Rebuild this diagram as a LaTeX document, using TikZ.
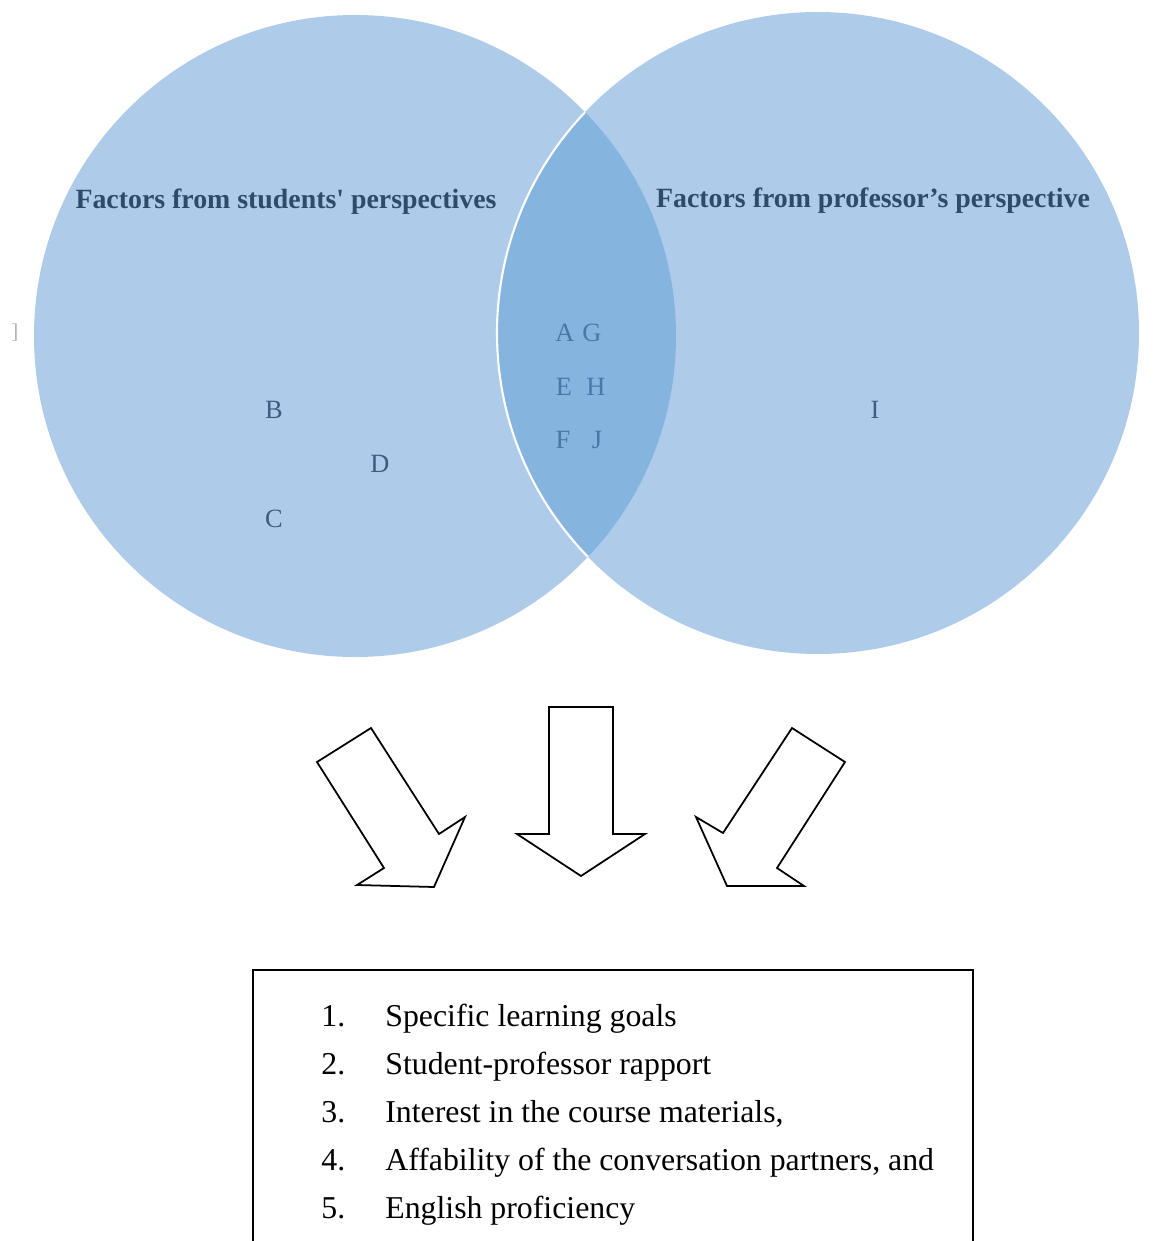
\documentclass[tikz,border=0pt]{standalone}
\usepackage{fontspec}
\setmainfont{Liberation Serif}
\definecolor{venn}{HTML}{AECBEA}
\definecolor{lens}{HTML}{85B4DF}
\definecolor{titleblue}{HTML}{2F4B6C}
\definecolor{letterblue}{HTML}{3E5C82}
\definecolor{lensblue}{HTML}{4A77A8}

\begin{document}
\begin{tikzpicture}[x=0.02cm, y=-0.02cm,
    side/.style={fill=venn, draw=none},
    heading/.style={font=\bfseries\fontsize{15.85}{18}\selectfont, text=titleblue},
    factor/.style={font=\fontsize{15}{18}\selectfont, text=letterblue},
    shared/.style={font=\fontsize{15}{18}\selectfont, text=lensblue},
    bigarrow/.style={draw=black, line width=1pt, fill=white, line join=miter},
    item/.style={font=\fontsize{18.1}{21}\selectfont, anchor=base west, inner sep=0pt},
]
    \useasboundingbox (0,0) rectangle (1154,1241);
    \clip (0,0) rectangle (1154,1241);

    % the two circles
    \fill [side] (355,336) circle [radius=321];
    \fill [side] (818,333) circle [radius=321];
    \begin{scope}
        \clip (355,336) circle [radius=321];
        \fill [lens] (818,333) circle [radius=321];
    \end{scope}
    \begin{scope}
        \clip (355,336) circle [radius=321];
        \draw [white, line width=1.2pt] (818,333) circle [radius=321];
    \end{scope}

    \node [heading] (students) at (286,202) {Factors from students\textquotesingle{} perspectives};
    \node [heading] (professor) at (873,201) {Factors from professor’s perspective};

    \node [factor] (B) at (274,410) {B};
    \node [factor] (D) at (380,464) {D};
    \node [factor] (C) at (274,519) {C};
    \node [factor] (I) at (875,410) {I};

    \node [shared] (A) at (565,333) {A};
    \node [shared] (G) at (592,333) {G};
    \node [shared] (E) at (564,387) {E};
    \node [shared] (H) at (596,387) {H};
    \node [shared] (F) at (563,440) {F};
    \node [shared] (J) at (597,440) {J};

    \node [text=black!30, font=\fontsize{12}{14}\selectfont] (mark) at (15,333) {]};

    % block arrows
    \draw [bigarrow] (317,762) -- (371,728) -- (439,834) -- (465,817)
        -- (434,887) -- (357,885) -- (384,868) -- cycle;
    \draw [bigarrow] (549,707) -- (613,707) -- (613,834) -- (645,834)
        -- (581,876) -- (517,834) -- (549,834) -- cycle;
    \draw [bigarrow] (845,762) -- (792,728) -- (723,833) -- (696,817)
        -- (727,886) -- (804,886) -- (777,868) -- cycle;

    % result box
    \draw [line width=1pt] (253,970) rectangle (973,1300);
    \foreach \n/\txt in {1/Specific learning goals,
                         2/Student-professor rapport,
                         3/{Interest in the course materials,},
                         4/{Affability of the conversation partners, and},
                         5/English proficiency} {
        \node [item] (num\n) at (321,978+48*\n) {\n.};
        \node [item] (txt\n) at (385,978+48*\n) {\txt};
    }
\end{tikzpicture}
\end{document}
